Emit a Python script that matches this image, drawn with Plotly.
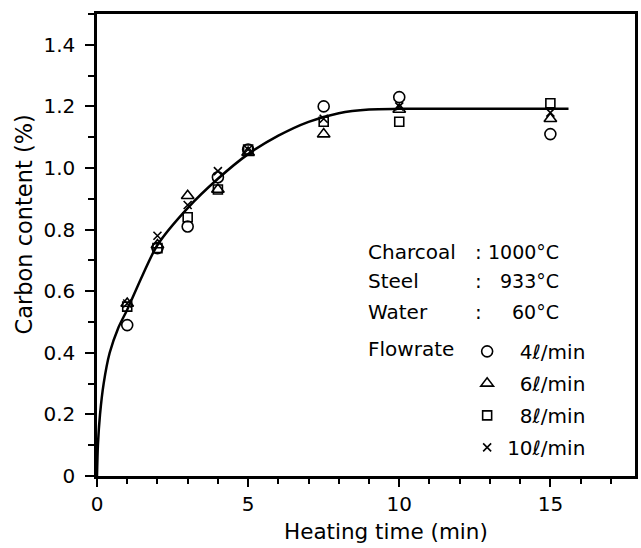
import plotly.graph_objects as go

# ---- data ----
time_min = [1, 2, 3, 4, 5, 7.5, 10, 15]
c_4 = [0.49, 0.74, 0.81, 0.97, 1.06, 1.20, 1.23, 1.11]
c_6 = [0.56, 0.75, 0.91, 0.93, 1.05, 1.11, 1.19, 1.16]
c_8 = [0.55, 0.74, 0.84, 0.93, 1.06, 1.15, 1.15, 1.21]
c_10 = [0.56, 0.78, 0.88, 0.99, 1.06, 1.16, 1.20, 1.18]

curve_t = [0, 0.03, 0.1, 0.22, 0.42, 0.7, 1.0, 1.5, 2.0, 3.0, 4.0, 5.0, 6.0, 7.0, 8.0, 9.0, 10.0, 12.0, 15.6]
curve_c = [0, 0.10, 0.20, 0.30, 0.40, 0.48, 0.54, 0.65, 0.75, 0.87, 0.965, 1.045, 1.105, 1.150, 1.178, 1.19, 1.192, 1.192, 1.192]

series_names = ["\u20074\u2113/min", "\u20076\u2113/min", "\u20078\u2113/min", "10\u2113/min"]
series_vals = [c_4, c_6, c_8, c_10]
series_symbols = ["circle-open", "triangle-up-open", "square-open", "x-thin-open"]
series_sizes = [11, 11, 9, 8]

cond_labels = ["Charcoal", "Steel", "Water"]
cond_values = ["1000\u00b0C", "933\u00b0C", "60\u00b0C"]
cond_rows_y = [0.728, 0.633, 0.533]

y_ticks = [0, 0.2, 0.4, 0.6, 0.8, 1.0, 1.2, 1.4]
y_ticktext = ["0", "0.2", "0.4", "0.6", "0.8", "1.0", "1.2", "1.4"]
x_ticks = [0, 5, 10, 15]

FONT = "DejaVu Sans"

fig = go.Figure()
fig.add_trace(go.Scatter(
    x=curve_t, y=curve_c, mode="lines", line=dict(color="black", width=2.5, shape="spline", smoothing=0.8),
    showlegend=False, hoverinfo="skip"))

for i, (name, vals, sym, sz) in enumerate(zip(series_names, series_vals, series_symbols, series_sizes)):
    fig.add_trace(go.Scatter(
        x=time_min, y=vals, mode="markers", name=name, legendgroup=f"g{i}",
        marker=dict(symbol=sym, size=sz, color="black", line=dict(color="black", width=1.6)),
    ))

annotations = []
for lab, val, yy in zip(cond_labels, cond_values, cond_rows_y):
    annotations.append(dict(x=8.91, y=yy, xref="x", yref="y", text=lab, showarrow=False,
                            xanchor="left", yanchor="middle", font=dict(size=20, family=FONT, color="black")))
    annotations.append(dict(x=12.62, y=yy, xref="x", yref="y", text=":", showarrow=False,
                            xanchor="center", yanchor="middle", font=dict(size=20, family=FONT, color="black")))
    annotations.append(dict(x=15.36, y=yy, xref="x", yref="y", text=val, showarrow=False,
                            xanchor="right", yanchor="middle", font=dict(size=19, family=FONT, color="black")))
annotations.append(dict(x=8.91, y=0.4125, xref="x", yref="y", text="Flowrate", showarrow=False,
                        xanchor="left", yanchor="middle", font=dict(size=20, family=FONT, color="black")))
annotations.append(dict(x=0.538, y=-0.121, xref="paper", yref="paper", text="Heating time (min)", showarrow=False,
                        xanchor="center", yanchor="middle", font=dict(size=21.5, family=FONT, color="black")))
annotations.append(dict(x=-0.135, y=0.545, xref="paper", yref="paper", text="Carbon content (%)", showarrow=False,
                        textangle=-90, xanchor="center", yanchor="middle", font=dict(size=22.5, family=FONT, color="black")))

fig.update_layout(
    width=641, height=548,
    margin=dict(l=97, r=3, t=14, b=72),
    paper_bgcolor="white", plot_bgcolor="white",
    font=dict(family=FONT, size=20, color="black"),
    showlegend=True,
    legend=dict(x=0.688, y=0.312, xanchor="left", yanchor="top", bgcolor="rgba(0,0,0,0)",
                traceorder="grouped", tracegroupgap=3, font=dict(size=20, family=FONT, color="black"),
                itemclick=False),
    annotations=annotations,
)
fig.update_xaxes(range=[0, 17.8], showline=True, linecolor="black", linewidth=2.5, mirror=True,
                 showgrid=False, zeroline=False, tickvals=x_ticks, ticks="outside", ticklen=8, tickwidth=2,
                 tickcolor="black", tickfont=dict(size=20, family=FONT),
                 minor=dict(dtick=1, ticks="outside", ticklen=5, tickwidth=1.5, tickcolor="black"))
fig.update_yaxes(range=[0, 1.5], showline=True, linecolor="black", linewidth=2.5, mirror=True,
                 showgrid=False, zeroline=False, tickvals=y_ticks, ticktext=y_ticktext, ticks="outside",
                 ticklen=9, tickwidth=2, tickcolor="black", tickfont=dict(size=20, family=FONT),
                 ticklabelstandoff=6,
                 minor=dict(dtick=0.1, tick0=0, ticks="outside", ticklen=6, tickwidth=1.5, tickcolor="black"))

fig.write_html("out.html")
